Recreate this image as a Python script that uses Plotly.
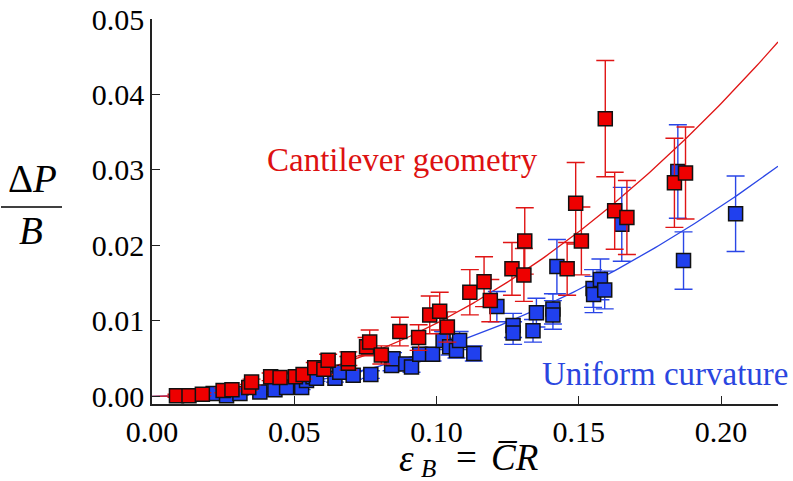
import numpy as np
import plotly.graph_objects as go

# ---- data ----
red_x = [0.0086, 0.013, 0.0177, 0.025, 0.0281, 0.034, 0.035, 0.0417, 0.045, 0.0504,
         0.0531, 0.0572, 0.0604, 0.0619, 0.069, 0.069, 0.0754, 0.0765, 0.0806, 0.0871,
         0.0937, 0.0976, 0.1011, 0.1038, 0.1117, 0.1167, 0.1189, 0.1265, 0.1307, 0.131,
         0.1459, 0.1489, 0.1509, 0.1593, 0.1626, 0.1669, 0.1836, 0.1875]
red_y = [0.0001, 0.0001, 0.0003, 0.0008, 0.0009, 0.0012, 0.0019, 0.0026, 0.0025, 0.0026,
         0.0029, 0.0038, 0.0036, 0.0048, 0.0044, 0.0050, 0.0066, 0.0072, 0.0055, 0.0086,
         0.0078, 0.0108, 0.0113, 0.0092, 0.0138, 0.0152, 0.0127, 0.0169, 0.0161, 0.0206,
         0.0169, 0.0256, 0.0206, 0.0368, 0.0246, 0.0237, 0.0283, 0.0296]
red_err = [0.0002, 0.0002, 0.0002, 0.0003, 0.0003, 0.0004, 0.0004, 0.0005, 0.0005, 0.0006,
           0.0006, 0.0007, 0.0007, 0.0008, 0.0009, 0.0009, 0.0012, 0.0016, 0.0012, 0.0019,
           0.0017, 0.0025, 0.0025, 0.0020, 0.0030, 0.0033, 0.0028, 0.0035, 0.0035, 0.0044,
           0.0035, 0.0054, 0.0045, 0.0077, 0.0051, 0.0049, 0.0059, 0.0061]

blue_x = [0.0215, 0.0262, 0.0309, 0.0379, 0.0432, 0.0473, 0.0526, 0.0543, 0.0566, 0.0578,
          0.0643, 0.066, 0.0707, 0.0769, 0.0842, 0.0847, 0.0892, 0.0912, 0.0941, 0.0986,
          0.1023, 0.1046, 0.107, 0.1081, 0.1131, 0.1212, 0.1269, 0.1269, 0.1339, 0.1351,
          0.1409, 0.1409, 0.1423, 0.155, 0.1552, 0.1576, 0.1591, 0.1651, 0.1848, 0.1868,
          0.2051]
blue_y = [0.0004, 0.0001, 0.0004, 0.0006, 0.0009, 0.0012, 0.0012, 0.0021, 0.0026, 0.0024,
          0.0024, 0.0032, 0.0028, 0.0029, 0.0041, 0.0050, 0.0043, 0.0039, 0.0056, 0.0056,
          0.0074, 0.0066, 0.0061, 0.0074, 0.0057, 0.0119, 0.0094, 0.0084, 0.0087, 0.0111,
          0.0116, 0.0108, 0.0172, 0.0143, 0.0135, 0.0155, 0.0141, 0.0228, 0.0298, 0.0180,
          0.0242]
blue_err = [0.0002, 0.0002, 0.0002, 0.0003, 0.0003, 0.0003, 0.0003, 0.0004, 0.0004, 0.0004,
            0.0005, 0.0005, 0.0005, 0.0005, 0.0007, 0.0008, 0.0007, 0.0007, 0.0009, 0.0009,
            0.0012, 0.0011, 0.0010, 0.0012, 0.0010, 0.0020, 0.0016, 0.0015, 0.0015, 0.0019,
            0.0020, 0.0019, 0.0036, 0.0025, 0.0024, 0.0027, 0.0025, 0.0049, 0.0062, 0.0038,
            0.0050]

# quadratic fit coefficients (dP/B = k * eps^2)
fit_red_k = 0.97
fit_blue_k = 0.63
fit_x_range = [0.0, 0.22]

x_ticks = [0.00, 0.05, 0.10, 0.15, 0.20]
x_tick_labels = ["0.00", "0.05", "0.10", "0.15", "0.20"]
y_ticks = [0.00, 0.01, 0.02, 0.03, 0.04, 0.05]
y_tick_labels = ["0.00", "0.01", "0.02", "0.03", "0.04", "0.05"]

RED = "#ee0000"
BLUE = "#2040ee"
RED_LINE = "#e01515"
BLUE_LINE = "#2a46e6"
FONT = "Liberation Serif"

fx = np.linspace(fit_x_range[0], fit_x_range[1], 200)

fig = go.Figure()

fig.add_trace(go.Scatter(x=fx, y=fit_blue_k * fx**2, mode="lines",
                         line=dict(color=BLUE_LINE, width=1.3), hoverinfo="skip"))
fig.add_trace(go.Scatter(x=fx, y=fit_red_k * fx**2, mode="lines",
                         line=dict(color=RED_LINE, width=1.3), hoverinfo="skip"))

fig.add_trace(go.Scatter(
    x=blue_x, y=blue_y, mode="markers",
    error_y=dict(type="data", array=blue_err, visible=True, color=BLUE_LINE, thickness=1.4, width=9),
    marker=dict(symbol="square", size=14, color=BLUE, line=dict(color="#111111", width=1.5))))
fig.add_trace(go.Scatter(
    x=red_x, y=red_y, mode="markers",
    error_y=dict(type="data", array=red_err, visible=True, color=RED_LINE, thickness=1.4, width=9),
    marker=dict(symbol="square", size=14, color=RED, line=dict(color="#111111", width=1.5))))

L, R, T, B = 152, 15, 19, 77
W, H = 793, 481
pw, ph = W - L - R, H - T - B


def px(xp):
    return (xp - L) / pw


def py(yp):
    return (H - B - yp) / ph


annotations = [
    dict(text="Cantilever geometry", x=px(402), y=py(160), font=dict(size=33, color="#dd1111", family=FONT)),
    dict(text="Uniform curvature", x=px(665), y=py(374), font=dict(size=33, color="#2a46e0", family=FONT)),
    # x-axis title pieces: ε_B = C̄R
    dict(text="<i>ε</i>", x=px(406), y=py(458), font=dict(size=37, color="black", family=FONT)),
    dict(text="<i>B</i>", x=px(428), y=py(468), font=dict(size=25, color="black", family=FONT)),
    dict(text="=", x=px(466), y=py(457), font=dict(size=37, color="black", family=FONT)),
    dict(text="<i>C\u0305R</i>", x=px(514), y=py(457), font=dict(size=37, color="black", family=FONT)),
    # y-axis title: ΔP over B
    dict(text="Δ<i>P</i>", x=px(32), y=py(178), font=dict(size=39, color="black", family=FONT)),
    dict(text="<i>B</i>", x=px(31), y=py(231), font=dict(size=39, color="black", family=FONT)),
]
for a in annotations:
    a.update(xref="paper", yref="paper", showarrow=False, xanchor="center", yanchor="middle")

fig.update_layout(
    width=W, height=H,
    margin=dict(l=L, r=R, t=T, b=B, autoexpand=False),
    plot_bgcolor="white", paper_bgcolor="white",
    showlegend=False,
    annotations=annotations,
    shapes=[dict(type="line", xref="paper", yref="paper", x0=px(1), x1=px(62), y0=py(207), y1=py(207),
                 line=dict(color="black", width=1.6))],
    font=dict(family=FONT, color="black"),
)
fig.update_xaxes(range=[0, 0.22], tickvals=x_ticks, ticktext=x_tick_labels, automargin=False,
                 showgrid=False, zeroline=False, showline=True, linecolor="#222222", linewidth=1.5,
                 ticks="inside", ticklen=8, tickwidth=1, tickcolor="#222222",
                 tickfont=dict(size=30, family=FONT, color="black"))
fig.update_yaxes(range=[-0.001, 0.05], tickvals=y_ticks, ticktext=y_tick_labels, automargin=False,
                 showgrid=False, zeroline=False, showline=True, linecolor="#222222", linewidth=1.5,
                 ticks="inside", ticklen=8, tickwidth=1, tickcolor="#222222",
                 tickfont=dict(size=30, family=FONT, color="black"))

fig.write_html("out.html", config={"displayModeBar": False},
               post_script="document.body.style.margin='0px';")
